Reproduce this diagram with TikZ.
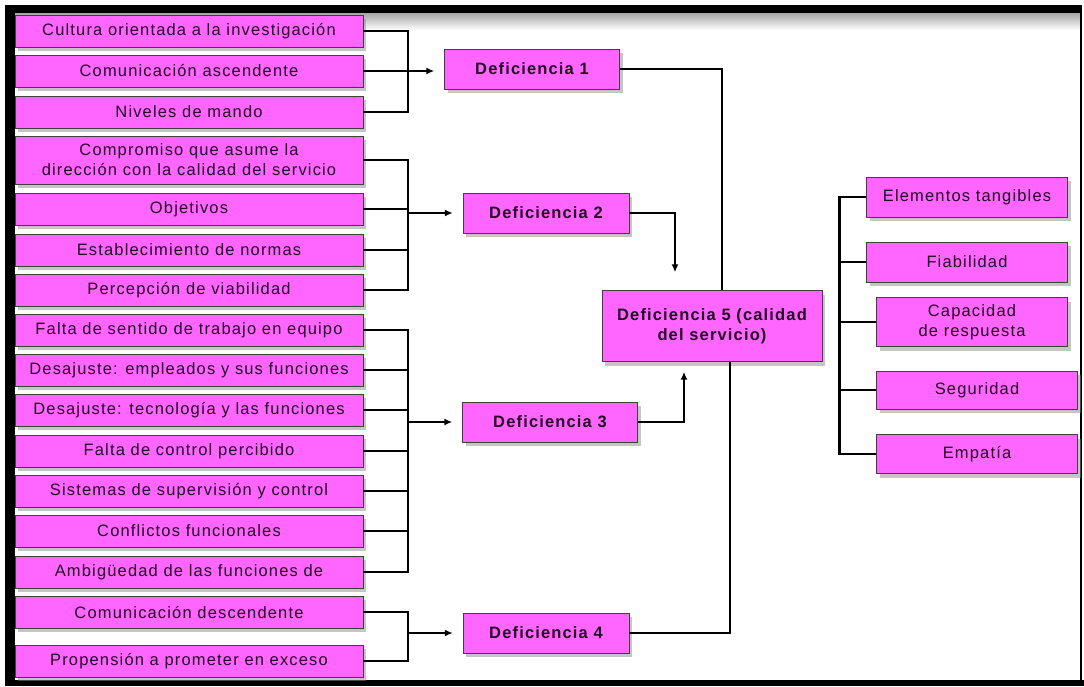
\documentclass[tikz,border=0pt]{standalone}
\usepackage{fontspec}
\setmainfont{Liberation Sans}[LetterSpace=7]
\usetikzlibrary{shadows,arrows.meta}

\definecolor{rosa}{HTML}{FF66FF}
\definecolor{tinta}{HTML}{220822}

\tikzset{
  caja/.style={draw=black!75, fill=rosa, text=tinta, align=center, inner sep=0pt,
    font=\fontsize{16.5}{20}\selectfont,
    drop shadow={shadow xshift=3pt, shadow yshift=-4pt, fill=black!45}},
  izq/.style={caja, minimum width=348pt, minimum height=32pt},
  der/.style={caja, minimum height=40pt},
  defi/.style={caja, font=\fontsize{16.5}{20}\selectfont\bfseries, minimum height=40pt},
  linea/.style={line width=2.4pt, black},
  flecha/.style={linea, -{Latex[length=8pt,width=7pt]}},
}

\begin{document}
\begin{tikzpicture}[x=1pt, y=-1pt]
\useasboundingbox (0,0) rectangle (1084,686);

% marco
\shade[top color=black!35, bottom color=white] (15,13) rectangle (1080,30);
\fill (5,5) rectangle (1082,13);
\fill (5,5) rectangle (15,686);
\fill (5,680) rectangle (1084,686);
\draw[line width=1.5pt] (1081,13) -- (1081,680);

% causas
\node[izq] (f1) at (189,31) {Cultura orientada a la investigación};
\node[izq] (f2) at (189,71) {Comunicación ascendente};
\node[izq] (f3) at (189,112) {Niveles de mando};
\node[izq, minimum height=48pt] (f4) at (189,160) {Compromiso que asume la\\dirección con la calidad del servicio};
\node[izq] (f5) at (189,209) {Objetivos};
\node[izq] (f6) at (189,250) {Establecimiento de normas};
\node[izq] (f7) at (189,290) {Percepción de viabilidad};
\node[izq] (f8) at (189,330) {Falta de sentido de trabajo en equipo};
\node[izq] (f9) at (189,370) {Desajuste: empleados y sus funciones};
\node[izq] (f10) at (189,410) {Desajuste: tecnología y las funciones};
\node[izq] (f11) at (189,451) {Falta de control percibido};
\node[izq] (f12) at (189,491) {Sistemas de supervisión y control};
\node[izq] (f13) at (189,531) {Conflictos funcionales};
\node[izq] (f14) at (189,572) {Ambigüedad de las funciones de};
\node[izq] (f15) at (189,612) {Comunicación descendente};
\node[izq] (f16) at (189,661) {Propensión a prometer en exceso};

% deficiencias
\node[defi, minimum width=175pt] (d1) at (532,69) {Deficiencia 1};
\node[defi, minimum width=166pt] (d2) at (546,213) {Deficiencia 2};
\node[defi, minimum width=175pt] (d3) at (550,422) {Deficiencia 3};
\node[defi, minimum width=166pt] (d4) at (546,633) {Deficiencia 4};
\node[defi, minimum width=220pt, minimum height=71pt] (d5) at (712,326) {Deficiencia 5 (calidad\\del servicio)};

% dimensiones
\node[der, minimum width=201pt] (r1) at (967,197) {Elementos tangibles};
\node[der, minimum width=201pt] (r2) at (967,262) {Fiabilidad};
\node[der, minimum width=191pt, minimum height=49pt] (r3) at (972,322) {Capacidad\\de respuesta};
\node[der, minimum width=201pt, minimum height=38pt] (r4) at (977,390) {Seguridad};
\node[der, minimum width=201pt, minimum height=39pt] (r5) at (977,454) {Empatía};

% llaves de la izquierda
\draw[linea] (f1.east) -- ++(45,0) |- (f3.east);
\draw[flecha, shorten >=10pt] (f2.east) -- (f2.east -| d1.west);

\coordinate (k2) at ([xshift=45pt]f4.east);
\draw[linea] (f4.east) -- (k2) |- (f7.east);
\draw[linea] (f5.east) -- ++(45,0);
\draw[linea] (f6.east) -- ++(45,0);
\draw[flecha, shorten >=10pt] (k2 |- d2.west) -- (d2.west);

\coordinate (k3) at ([xshift=45pt]f8.east);
\draw[linea] (f8.east) -- (k3) |- (f14.east);
\foreach \i in {9,...,13}
  \draw[linea] (f\i.east) -- ++(45,0);
\draw[flecha, shorten >=10pt] (k3 |- d3.west) -- (d3.west);

\coordinate (k4) at ([xshift=45pt]f15.east);
\draw[linea] (f15.east) -- (k4) |- (f16.east);
\draw[flecha, shorten >=10pt] (k4 |- d4.west) -- (d4.west);

% hacia la deficiencia 5
\draw[linea] (d1.east) -| ([xshift=10pt]d5.north);
\draw[flecha, shorten >=18pt] (d2.east) -| ([xshift=-37pt]d5.north);
\draw[flecha, shorten >=10pt] (d3.east) -| ([xshift=-28pt]d5.south);
\draw[linea] (d4.east) -| ([xshift=18pt]d5.south);

% llave de la derecha
\coordinate (k5) at ([xshift=-27pt]r1.west);
\draw[linea] (r1.west) -- (k5) |- (r5.west);
\foreach \i in {2,3,4}
  \draw[linea] (r\i.west) -- (r\i.west -| k5);
\end{tikzpicture}
\end{document}
